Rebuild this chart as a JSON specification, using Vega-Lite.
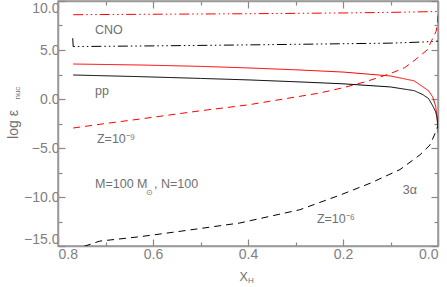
{
  "$schema": "https://vega.github.io/schema/vega-lite/v6.json",
  "width": 380,
  "height": 245,
  "autosize": "none",
  "padding": {"left": 58, "top": 1, "right": 9, "bottom": 41},
  "config": {
    "view": {"stroke": "#999", "strokeWidth": 1.5},
    "font": "Liberation Sans",
    "axis": {"grid": false, "domainColor": "#999", "domainWidth": 1.5, "tickColor": "#888888", "tickWidth": 1.2, "labelColor": "#808080", "labelFont": "Liberation Sans", "labelFontSize": 14, "labelOverlap": false, "labelBound": false}
  },
  "datasets": {
    "curves": [
      {"s": "CNO9", "xh": 0.768, "v": 8.6}, {"s": "CNO9", "xh": 0.6, "v": 8.65}, {"s": "CNO9", "xh": 0.4, "v": 8.7}, {"s": "CNO9", "xh": 0.3, "v": 8.74}, {"s": "CNO9", "xh": 0.2, "v": 8.78}, {"s": "CNO9", "xh": 0.1, "v": 8.84}, {"s": "CNO9", "xh": 0.03, "v": 8.9}, {"s": "CNO9", "xh": 0.0, "v": 8.92},
      {"s": "CNO6", "xh": 0.769, "v": 6.2}, {"s": "CNO6", "xh": 0.768, "v": 5.35}, {"s": "CNO6", "xh": 0.6, "v": 5.42}, {"s": "CNO6", "xh": 0.4, "v": 5.52}, {"s": "CNO6", "xh": 0.3, "v": 5.58}, {"s": "CNO6", "xh": 0.2, "v": 5.64}, {"s": "CNO6", "xh": 0.1, "v": 5.7}, {"s": "CNO6", "xh": 0.03, "v": 5.82}, {"s": "CNO6", "xh": 0.01, "v": 5.88}, {"s": "CNO6", "xh": 0.0, "v": 5.9},
      {"s": "pp9", "xh": 0.768, "v": 3.57}, {"s": "pp9", "xh": 0.627, "v": 3.47}, {"s": "pp9", "xh": 0.5, "v": 3.33}, {"s": "pp9", "xh": 0.4, "v": 3.17}, {"s": "pp9", "xh": 0.3, "v": 2.98}, {"s": "pp9", "xh": 0.2, "v": 2.75}, {"s": "pp9", "xh": 0.1, "v": 2.35}, {"s": "pp9", "xh": 0.05, "v": 1.85}, {"s": "pp9", "xh": 0.032, "v": 1.25}, {"s": "pp9", "xh": 0.02, "v": 0.85}, {"s": "pp9", "xh": 0.011, "v": 0.2}, {"s": "pp9", "xh": 0.005, "v": -0.7}, {"s": "pp9", "xh": 0.002, "v": -1.8}, {"s": "pp9", "xh": 0.0, "v": -3.5},
      {"s": "pp6", "xh": 0.768, "v": 2.45}, {"s": "pp6", "xh": 0.627, "v": 2.28}, {"s": "pp6", "xh": 0.5, "v": 2.1}, {"s": "pp6", "xh": 0.4, "v": 1.95}, {"s": "pp6", "xh": 0.29, "v": 1.74}, {"s": "pp6", "xh": 0.2, "v": 1.55}, {"s": "pp6", "xh": 0.1, "v": 1.23}, {"s": "pp6", "xh": 0.05, "v": 0.85}, {"s": "pp6", "xh": 0.032, "v": 0.45}, {"s": "pp6", "xh": 0.02, "v": 0.05}, {"s": "pp6", "xh": 0.011, "v": -0.7}, {"s": "pp6", "xh": 0.005, "v": -1.3}, {"s": "pp6", "xh": 0.002, "v": -1.9}, {"s": "pp6", "xh": 0.0, "v": -2.7},
      {"s": "ta9", "xh": 0.768, "v": -2.96}, {"s": "ta9", "xh": 0.7, "v": -2.5}, {"s": "ta9", "xh": 0.627, "v": -2.04}, {"s": "ta9", "xh": 0.5, "v": -1.2}, {"s": "ta9", "xh": 0.4, "v": -0.6}, {"s": "ta9", "xh": 0.3, "v": 0.2}, {"s": "ta9", "xh": 0.25, "v": 0.6}, {"s": "ta9", "xh": 0.2, "v": 1.15}, {"s": "ta9", "xh": 0.15, "v": 1.8}, {"s": "ta9", "xh": 0.1, "v": 2.6}, {"s": "ta9", "xh": 0.07, "v": 3.2}, {"s": "ta9", "xh": 0.048, "v": 4.0}, {"s": "ta9", "xh": 0.023, "v": 5.0}, {"s": "ta9", "xh": 0.013, "v": 6.0}, {"s": "ta9", "xh": 0.004, "v": 6.9}, {"s": "ta9", "xh": 0.001, "v": 7.8}, {"s": "ta9", "xh": 0.0, "v": 8.8},
      {"s": "ta6", "xh": 0.77, "v": -15.3}, {"s": "ta6", "xh": 0.743, "v": -15.0}, {"s": "ta6", "xh": 0.712, "v": -14.5}, {"s": "ta6", "xh": 0.627, "v": -14.05}, {"s": "ta6", "xh": 0.543, "v": -13.5}, {"s": "ta6", "xh": 0.417, "v": -12.65}, {"s": "ta6", "xh": 0.291, "v": -11.3}, {"s": "ta6", "xh": 0.206, "v": -9.8}, {"s": "ta6", "xh": 0.143, "v": -8.6}, {"s": "ta6", "xh": 0.08, "v": -7.2}, {"s": "ta6", "xh": 0.038, "v": -5.7}, {"s": "ta6", "xh": 0.017, "v": -4.7}, {"s": "ta6", "xh": 0.006, "v": -3.5}, {"s": "ta6", "xh": 0.0, "v": -2.7}
    ],
    "notes": [
      {"t": "CNO", "xh": 0.722, "v": 6.68},
      {"t": "pp", "xh": 0.722, "v": 0.41},
      {"t": "Z=10⁻⁹", "xh": 0.718, "v": -4.48},
      {"t": "M=100 M", "xh": 0.722, "v": -9.07},
      {"t": ",  N=100", "xh": 0.598, "v": -9.07},
      {"t": "3α", "xh": 0.074, "v": -9.68},
      {"t": "Z=10⁻⁶", "xh": 0.255, "v": -12.64},
      {"t": "X", "xh": 0.418, "v": -18.6}
    ],
    "subs": [
      {"t": "⊙", "xh": 0.608, "v": -9.6},
      {"t": "H", "xh": 0.394, "v": -18.6}
    ],
    "ytitle": [{"t": "log ε", "xh": 0.885, "v": -2.6}],
    "ysub": [{"t": "nuc", "xh": 0.879, "v": 0.6}]
  },
  "layer": [
    {
      "data": {"name": "curves"},
      "mark": {"type": "line", "clip": true, "strokeWidth": 1},
      "encoding": {
        "x": {"field": "xh", "type": "quantitative", "scale": {"domain": [0, 0.8], "reverse": true, "nice": false, "zero": false},
          "axis": {"orient": "bottom", "title": null, "values": [0.8, 0.7, 0.6, 0.5, 0.4, 0.3, 0.2, 0.1, 0.0], "format": ".1f",
            "labelExpr": "round(datum.value*10)%2===0 ? datum.label : ''",
            "tickSize": {"condition": {"test": "round(datum.value*10)%2===0", "value": -7}, "value": -4}, "labelPadding": 8}},
        "y": {"field": "v", "type": "quantitative", "scale": {"domain": [-15, 10], "nice": false, "zero": false},
          "axis": {"orient": "left", "title": null, "values": [-15, -12.5, -10, -7.5, -5, -2.5, 0, 2.5, 5, 7.5, 10], "format": ".1f",
            "labelExpr": "datum.value%5===0 ? datum.label : ''", "labelFlush": true,
            "tickSize": {"condition": {"test": "datum.value%5===0", "value": -7}, "value": -4}, "labelPadding": 6}},
        "color": {"field": "s", "type": "nominal", "legend": null,
          "scale": {"domain": ["CNO9", "CNO6", "pp9", "pp6", "ta9", "ta6"], "range": ["#ff0000", "#000000", "#ff0000", "#000000", "#ff0000", "#000000"]}},
        "strokeDash": {"field": "s", "type": "nominal", "legend": null,
          "scale": {"domain": ["CNO9", "CNO6", "pp9", "pp6", "ta9", "ta6"], "range": [[10, 3, 1.5, 3, 1.5, 3, 1.5, 3], [10, 3, 1.5, 3, 1.5, 3, 1.5, 3], [1, 0], [1, 0], [7, 5], [7, 5]]}}
      }
    },
    {
      "data": {"name": "notes"},
      "mark": {"type": "text", "fontSize": 12.5, "align": "left", "baseline": "alphabetic", "color": "#707070", "font": "Liberation Sans"},
      "encoding": {
        "x": {"field": "xh", "type": "quantitative",
          "axis": {"orient": "top", "title": null, "labels": false, "values": [0.8, 0.7, 0.6, 0.5, 0.4, 0.3, 0.2, 0.1, 0.0],
            "tickSize": {"condition": {"test": "round(datum.value*10)%2===0", "value": -7}, "value": -4}}},
        "y": {"field": "v", "type": "quantitative",
          "axis": {"orient": "right", "title": null, "labels": false, "values": [-15, -12.5, -10, -7.5, -5, -2.5, 0, 2.5, 5, 7.5, 10],
            "tickSize": {"condition": {"test": "datum.value%5===0", "value": -7}, "value": -4}}},
        "text": {"field": "t"}
      }
    },
    {
      "data": {"name": "subs"},
      "mark": {"type": "text", "fontSize": 8, "align": "center", "baseline": "middle", "color": "#707070", "font": "Liberation Sans"},
      "encoding": {
        "x": {"field": "xh", "type": "quantitative", "axis": null},
        "y": {"field": "v", "type": "quantitative", "axis": null},
        "text": {"field": "t"}
      }
    },
    {
      "data": {"name": "ytitle"},
      "mark": {"type": "text", "fontSize": 14, "angle": 270, "align": "center", "baseline": "alphabetic", "color": "#707070", "font": "Liberation Sans"},
      "encoding": {
        "x": {"field": "xh", "type": "quantitative", "axis": null},
        "y": {"field": "v", "type": "quantitative", "axis": null},
        "text": {"field": "t"}
      }
    },
    {
      "data": {"name": "ysub"},
      "mark": {"type": "text", "fontSize": 8, "angle": 270, "align": "center", "baseline": "alphabetic", "color": "#707070", "font": "Liberation Sans"},
      "encoding": {
        "x": {"field": "xh", "type": "quantitative", "axis": null},
        "y": {"field": "v", "type": "quantitative", "axis": null},
        "text": {"field": "t"}
      }
    }
  ],
  "resolve": {"axis": {"x": "independent", "y": "independent"}}
}
